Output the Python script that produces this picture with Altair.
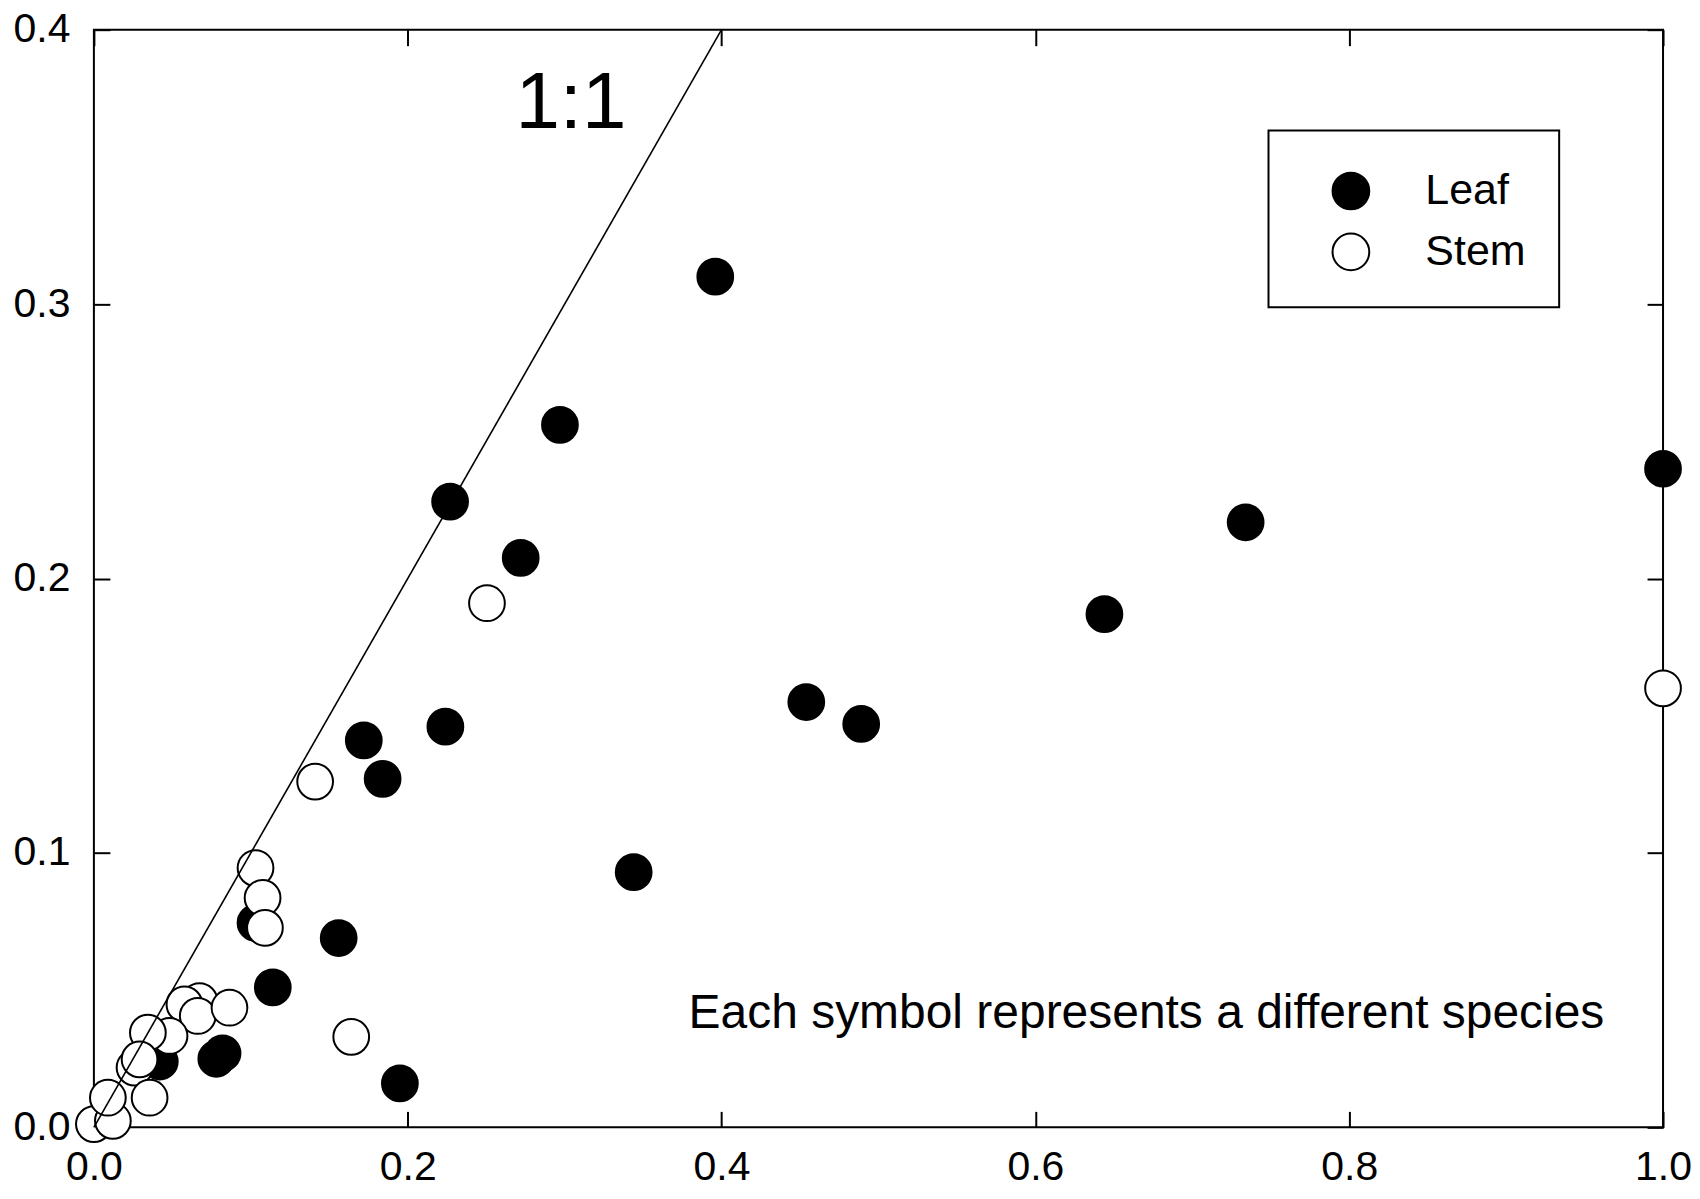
import altair as alt
import pandas as pd

# ---- data ----
leaf_x = [0.396, 0.297, 0.227, 0.272, 0.224, 0.172, 0.184, 0.344, 0.195, 0.454,
          0.489, 0.644, 0.734, 1.0, 0.156, 0.114, 0.078, 0.082, 0.042, 0.103]
leaf_y = [0.310, 0.256, 0.228, 0.2075, 0.146, 0.141, 0.127, 0.093, 0.016, 0.155,
          0.147, 0.187, 0.2205, 0.240, 0.069, 0.051, 0.025, 0.027, 0.024, 0.0745]

stem_x = [1.0, 0.2505, 0.141, 0.103, 0.1075, 0.109, 0.164, 0.0673, 0.0577, 0.0662,
          0.0864, 0.0482, 0.0344, 0.0259, 0.0291, 0.0355, 0.0, 0.0121, 0.0089]
stem_y = [0.160, 0.191, 0.126, 0.0945, 0.0836, 0.0727, 0.033, 0.046, 0.0448, 0.0406,
          0.0436, 0.0333, 0.0345, 0.0218, 0.0248, 0.0108, 0.0012, 0.0024, 0.0108]

series = ["Leaf", "Stem"]
x_ticks = [0.0, 0.2, 0.4, 0.6, 0.8, 1.0]
y_ticks = [0.0, 0.1, 0.2, 0.3, 0.4]

line_x = [0.0, 0.4]
line_y = [0.0, 0.4]

label_11 = ["1:1"]
label_11_x = [0.304]
label_11_y = [0.373]

note_text = ["Each symbol represents a different species"]
note_x = [0.379]
note_y = [0.0414]

FONT = "Liberation Sans"

# ---- tables ----
df = pd.DataFrame({
    "x": leaf_x + stem_x,
    "y": leaf_y + stem_y,
    "part": [series[0]] * len(leaf_x) + [series[1]] * len(stem_x),
})
df["order"] = range(len(df))

line_df = pd.DataFrame({"x": line_x, "y": line_y})
lab_df = pd.DataFrame({"x": label_11_x, "y": label_11_y, "t": label_11})
note_df = pd.DataFrame({"x": note_x, "y": note_y, "t": note_text})

xs = alt.Scale(domain=[0, 1], nice=False, zero=False)
ys = alt.Scale(domain=[0, 0.4], nice=False, zero=False)

common_axis = dict(
    grid=False, domain=False, tickColor="black", tickWidth=2, tickSize=16,
    offset=-16, title=None, labelFont=FONT, labelFontSize=41, labelColor="black",
)

x_bottom = alt.Axis(orient="bottom", values=x_ticks, format=".1f", labelPadding=20,
                    labelFlush=False, **common_axis)
y_left = alt.Axis(orient="left", values=y_ticks, format=".1f", labelPadding=24,
                  **common_axis)
x_top = alt.Axis(orient="top", values=x_ticks, labels=False, **common_axis)
y_right = alt.Axis(orient="right", values=y_ticks, labels=False, **common_axis)

points = alt.Chart(df).mark_point(
    shape="circle", filled=True, size=1280, stroke="black", strokeWidth=2, opacity=1
).encode(
    x=alt.X("x:Q", scale=xs, axis=x_bottom),
    y=alt.Y("y:Q", scale=ys, axis=y_left),
    fill=alt.Fill(
        "part:N",
        scale=alt.Scale(domain=series, range=["black", "white"]),
        legend=alt.Legend(
            title=" ", titleFontSize=2, titlePadding=4,
            orient="none", legendX=1176, legendY=101,
            strokeColor="black", padding=33, symbolOffset=28,
            symbolType="circle", symbolSize=1350, symbolStrokeColor="black",
            symbolStrokeWidth=2, labelFont=FONT, labelFontSize=43,
            labelColor="black", labelOffset=53, rowPadding=16,
        ),
    ),
    order=alt.Order("order:Q"),
)

line = alt.Chart(line_df).mark_line(color="black", strokeWidth=1.6).encode(
    x=alt.X("x:Q", scale=xs, axis=x_top),
    y=alt.Y("y:Q", scale=ys, axis=y_right),
)

lab = alt.Chart(lab_df).mark_text(
    font=FONT, fontSize=80, color="black", align="center", baseline="middle"
).encode(
    x=alt.X("x:Q", scale=xs, axis=None),
    y=alt.Y("y:Q", scale=ys, axis=None),
    text="t:N",
)

note = alt.Chart(note_df).mark_text(
    font=FONT, fontSize=48, color="black", align="left", baseline="middle"
).encode(
    x=alt.X("x:Q", scale=xs, axis=None),
    y=alt.Y("y:Q", scale=ys, axis=None),
    text="t:N",
)

chart = alt.layer(points, line, lab, note).resolve_axis(
    x="independent", y="independent"
).properties(
    width=1571, height=1099,
    padding={"left": 5, "top": 0, "right": 0, "bottom": 0},
).configure_view(
    stroke="black", strokeWidth=2
).configure_legend(
    strokeWidth=2
)

chart.save("out.html", embed_options={"renderer": "svg", "actions": False})
